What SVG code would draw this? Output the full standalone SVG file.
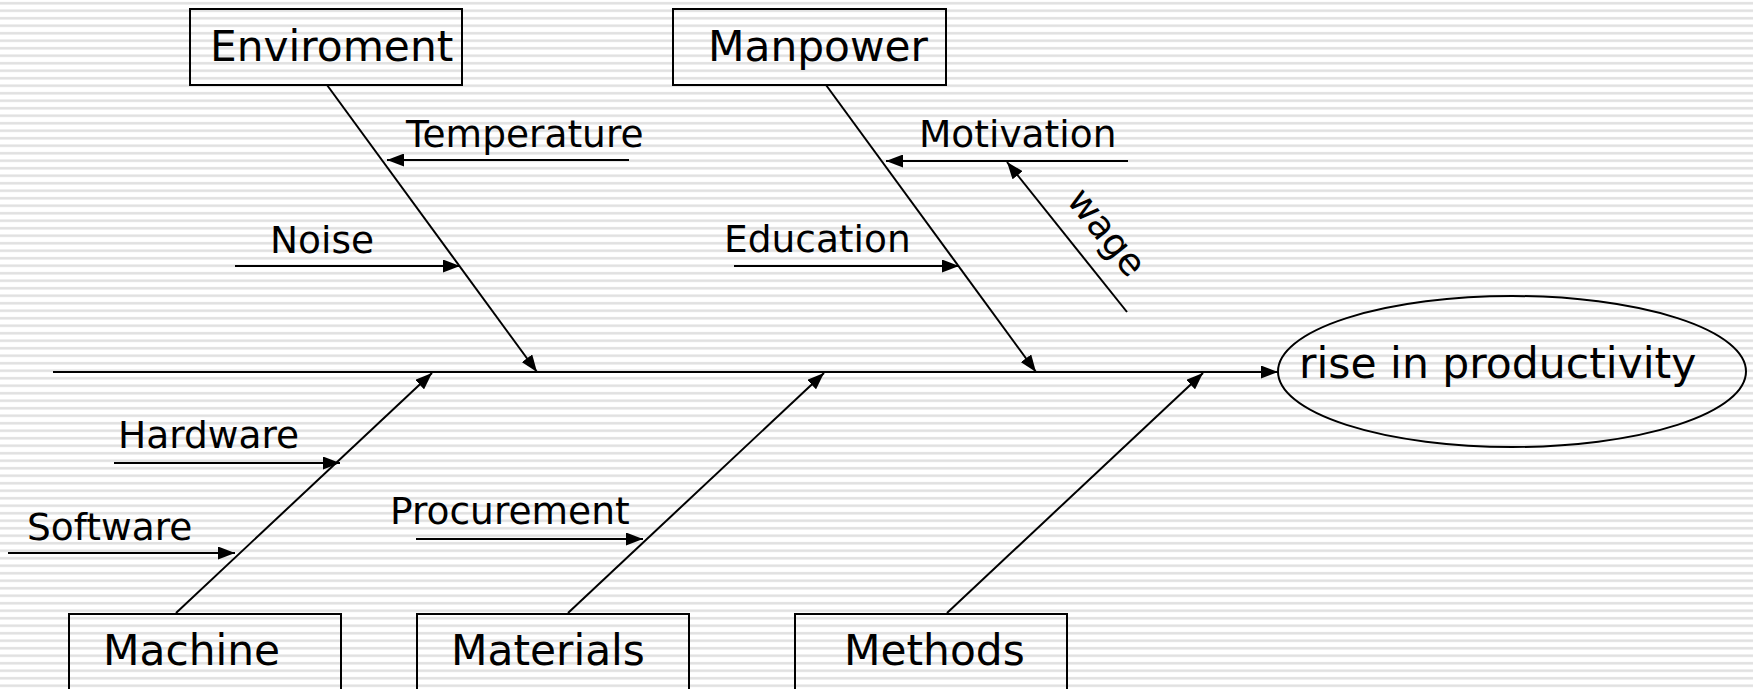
<svg xmlns="http://www.w3.org/2000/svg" width="1753" height="689" viewBox="0 0 1753 689">
  <defs>
    <pattern id="stripes" patternUnits="userSpaceOnUse" width="20" height="7.5">
      <rect x="0" y="0" width="20" height="7.5" fill="#ffffff"/>
      <rect x="0" y="2" width="20" height="2.5" fill="#e0e0e0"/>
    </pattern>
    <marker id="arrow" markerUnits="userSpaceOnUse" markerWidth="18" markerHeight="13" refX="17" refY="6.5" orient="auto">
      <path d="M0,0 L17,6.5 L0,13 z" fill="#000"/>
    </marker>
    <style>
      .box { fill: none; stroke: #000; stroke-width: 2; }
      .line { fill: none; stroke: #000; stroke-width: 2; }
      .arr { marker-end: url(#arrow); }
      .big { font-family: "DejaVu Sans", Verdana, sans-serif; font-size: 42.3px; fill: #000; }
      .small { font-family: "DejaVu Sans", Verdana, sans-serif; font-size: 37.5px; fill: #000; }
    </style>
  </defs>

  <rect x="0" y="0" width="1753" height="689" fill="url(#stripes)"/>

  <!-- connectors: spine, bones and cause arrows -->
  <g id="connectors">
    <line class="line arr" x1="53" y1="372" x2="1278" y2="372"/>
    <line class="line arr" x1="327" y1="85" x2="537" y2="372"/>
    <line class="line arr" x1="826" y1="85" x2="1036" y2="372"/>
    <line class="line arr" x1="176" y1="613" x2="432" y2="373"/>
    <line class="line arr" x1="568" y1="613" x2="824" y2="373"/>
    <line class="line arr" x1="947" y1="613" x2="1203" y2="373"/>
    <line class="line arr" x1="629" y1="160" x2="387" y2="160"/>
    <line class="line arr" x1="235" y1="266" x2="460" y2="266"/>
    <line class="line arr" x1="1128" y1="161" x2="886" y2="161"/>
    <line class="line arr" x1="734" y1="266" x2="959" y2="266"/>
    <line class="line arr" x1="1127" y1="312" x2="1007" y2="162"/>
    <line class="line arr" x1="114" y1="463" x2="340" y2="463"/>
    <line class="line arr" x1="8" y1="553" x2="235" y2="553"/>
    <line class="line arr" x1="416" y1="539" x2="643" y2="539"/>
  </g>

  <!-- cause labels -->
  <g id="labels">
    <text class="small" x="406" y="147">Temperature</text>
    <text class="small" x="270" y="253">Noise</text>
    <text class="small" x="919" y="147">Motivation</text>
    <text class="small" x="724" y="252">Education</text>
    <text class="small" x="1097" y="240" text-anchor="middle" transform="rotate(51.3 1097 240)">wage</text>
    <text class="small" x="118" y="448">Hardware</text>
    <text class="small" x="27" y="540">Software</text>
    <text class="small" x="390" y="524">Procurement</text>
  </g>

  <g id="enviroment">
    <rect class="box" x="190" y="9" width="272" height="76"/>
    <text class="big" x="210" y="61">Enviroment</text>
  </g>
  <g id="manpower">
    <rect class="box" x="673" y="9" width="273" height="76"/>
    <text class="big" x="708" y="61">Manpower</text>
  </g>
  <g id="machine">
    <rect class="box" x="69" y="614" width="272" height="90"/>
    <text class="big" x="103" y="665">Machine</text>
  </g>
  <g id="materials">
    <rect class="box" x="417" y="614" width="272" height="90"/>
    <text class="big" x="451" y="665">Materials</text>
  </g>
  <g id="methods">
    <rect class="box" x="795" y="614" width="272" height="90"/>
    <text class="big" x="844" y="665">Methods</text>
  </g>
  <g id="effect">
    <ellipse class="box" cx="1512" cy="371.5" rx="234" ry="75.5"/>
    <text class="big" x="1299" y="378" style="font-size:42.5px">rise in productivity</text>
  </g>
</svg>
